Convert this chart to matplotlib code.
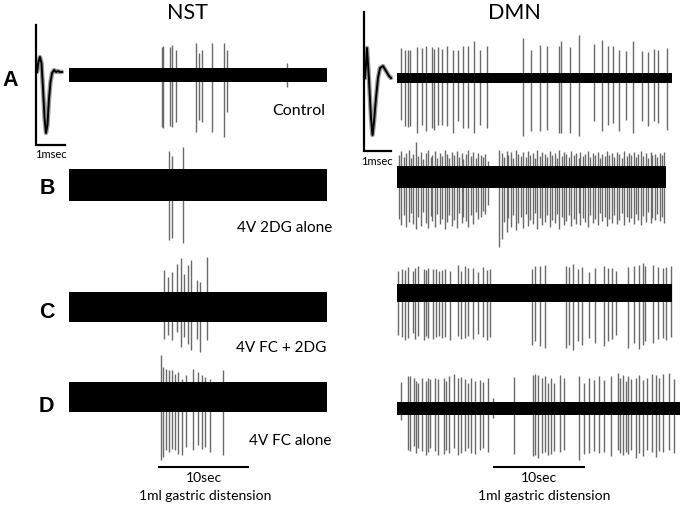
import matplotlib
matplotlib.use("Agg")
import matplotlib.pyplot as plt

# ---------------- data (times in s, amplitudes in arbitrary units) ----------------
# NST recordings
nst_a_t = [10.42, 10.60, 11.35, 11.57, 11.99, 14.27, 14.64, 14.91, 16.10, 17.45, 17.79, 24.50]
nst_a_up = [28, 29, 28, 30, 25, 32, 22, 25, 32, 32, 25, 12]
nst_a_dn = [52, 53, 51, 52, 47, 57, 45, 47, 57, 62, 37, 12]

nst_b_t = [11.27, 11.54, 12.77]
nst_b_up = [34, 29, 38]
nst_b_dn = [55, 53, 58]

nst_c_t = [10.71, 11.16, 11.61, 12.10, 12.58, 12.92, 13.34, 13.74, 14.35, 14.72, 15.51]
nst_c_up = [37, 30, 35, 43, 49, 33, 42, 47, 27, 25, 50]
nst_c_dn = [32, 28, 33, 25, 40, 30, 37, 43, 32, 45, 33]

nst_d_t = [10.34, 10.60, 10.90, 11.24, 11.61, 11.91, 12.21, 12.66, 13.10, 13.97, 14.46, 14.91, 15.28, 15.84, 17.27]
nst_d_up = [42, 30, 28, 27, 27, 23, 25, 18, 22, 28, 25, 22, 20, 18, 27]
nst_d_dn = [63, 60, 53, 55, 52, 53, 57, 58, 50, 53, 48, 52, 50, 55, 58]

# DMN recordings
dmn_a_t = [0.44, 0.89, 1.19, 1.48, 2.22, 2.74, 3.22, 3.85, 4.15, 4.52, 4.96, 5.56, 6.19, 6.81,
           7.37, 7.93, 8.52, 9.26, 9.96, 14.00, 14.89, 15.89, 16.67, 18.04, 18.22, 19.19, 20.22,
           21.85, 22.74, 23.41, 23.96, 24.63, 25.44, 26.26, 27.22, 27.85, 28.59, 29.04, 29.96]
dmn_a_up = [30, 28, 28, 28, 31, 30, 32, 31, 29, 31, 29, 32, 28, 28, 32, 32, 37, 28, 32, 40,
            28, 33, 32, 32, 37, 31, 43, 34, 38, 32, 32, 28, 27, 37, 27, 26, 29, 28, 30]
dmn_a_dn = [42, 48, 49, 48, 55, 47, 53, 50, 52, 47, 47, 48, 55, 43, 50, 50, 55, 47, 50, 58,
            53, 53, 52, 55, 55, 55, 58, 43, 53, 47, 45, 53, 42, 55, 43, 48, 43, 45, 52]

dmn_b_t = [0.22, 0.47, 0.81, 0.98, 1.31, 1.52, 1.83, 2.07, 2.38, 2.63, 2.88, 3.17, 3.42, 3.73,
           3.92, 4.23, 4.48, 4.77, 5.02, 5.28, 5.57, 5.79, 6.12, 6.33, 6.63, 6.88, 7.18, 7.38,
           7.72, 7.93, 8.24, 8.47, 8.78, 9.02, 9.28, 9.57, 9.78, 10.12,
           11.38, 11.63, 11.87, 12.18, 12.38, 12.72, 12.93, 13.22, 13.48, 13.77, 13.98, 14.32,
           14.53, 14.82, 15.08, 15.37, 15.58, 15.92, 16.13, 16.42, 16.68, 16.97, 17.18, 17.52,
           17.73, 18.02, 18.28, 18.57, 18.78, 19.12, 19.33, 19.62, 19.88, 20.17, 20.38, 20.72,
           20.93, 21.22, 21.48, 21.77, 21.98, 22.32, 22.53, 22.82, 23.08, 23.37, 23.58, 23.92,
           24.13, 24.42, 24.68, 24.97, 25.18, 25.52, 25.73, 26.02, 26.28, 26.57, 26.78, 27.12,
           27.33, 27.62, 27.88, 28.17, 28.38, 28.72, 28.93, 29.22, 29.48, 29.72]
dmn_b_up = [22, 26, 20, 24, 27, 19, 23, 35, 21, 25, 18, 24, 27, 20, 22, 26, 19, 24, 21, 27,
            23, 19, 25, 22, 26, 20, 24, 18, 23, 27, 21, 25, 19, 24, 22, 20, 23, 16,
            27, 24, 20, 26, 22, 25, 19, 27, 23, 21, 25, 20, 26, 22, 24, 19, 27, 21, 25, 23,
            20, 26, 22, 24, 19, 27, 21, 25, 23, 20, 26, 22, 24, 19, 25, 21, 23, 26, 20, 24,
            22, 25, 19, 23, 21, 26, 22, 24, 20, 25, 23, 19, 26, 21, 24, 22, 25, 20, 23, 26,
            21, 24, 19, 25, 22, 23, 20, 24, 22, 25]
dmn_b_dn = [42, 48, 38, 50, 45, 36, 47, 52, 40, 49, 35, 46, 51, 39, 44, 50, 37, 47, 42, 52,
            45, 38, 49, 43, 51, 36, 46, 40, 44, 50, 38, 47, 35, 42, 40, 34, 37, 28,
            70, 62, 45, 55, 41, 50, 38, 53, 46, 40, 51, 37, 49, 43, 47, 36, 52, 41, 48, 45,
            38, 50, 43, 46, 37, 52, 40, 48, 44, 38, 49, 42, 47, 36, 48, 41, 45, 50, 38, 46,
            42, 48, 36, 44, 40, 49, 42, 46, 38, 47, 43, 36, 48, 40, 45, 41, 47, 37, 43, 48,
            39, 45, 35, 46, 41, 43, 37, 44, 40, 46]

dmn_c_t = [0.15, 0.52, 0.89, 1.26, 1.74, 2.00, 2.37, 2.96, 3.22, 3.48, 4.04, 4.33, 4.63, 4.96,
           5.33, 5.89, 6.74, 7.11, 7.56, 7.93, 8.41, 8.96, 9.52, 9.96, 10.33,
           14.96, 15.33, 15.89, 16.44, 18.78, 19.15, 19.59, 20.07, 20.56, 21.37, 22.04, 23.04,
           23.41, 23.85, 24.33, 25.63, 26.30, 26.85, 27.30, 27.59, 28.41, 28.96, 29.52, 29.89, 30.44]
dmn_c_up = [22, 24, 23, 26, 22, 25, 27, 24, 23, 25, 24, 24, 22, 23, 24, 22, 28, 22, 27, 25,
            25, 21, 26, 23, 24,
            24, 27, 27, 28, 27, 26, 29, 24, 26, 21, 25, 27, 25, 25, 22, 26, 27, 28, 30, 27,
            28, 26, 25, 26, 27]
dmn_c_dn = [42, 44, 47, 45, 40, 46, 43, 47, 43, 45, 46, 44, 43, 45, 44, 47, 43, 46, 45, 43,
            46, 41, 44, 47, 44,
            52, 48, 53, 55, 55, 52, 57, 48, 52, 45, 50, 53, 48, 46, 42, 55, 50, 56, 52, 48,
            50, 46, 45, 47, 44]

dmn_d_t = [0.44, 1.19, 1.48, 1.85, 2.11, 2.37, 2.78, 3.22, 3.48, 3.70, 4.26, 4.52, 5.19, 5.44,
           5.81, 6.37, 6.74, 7.11, 7.56, 7.85, 8.22, 8.67, 9.26, 9.52, 10.07, 10.63, 12.96,
           15.07, 15.37, 15.70, 16.11, 16.44, 16.81, 17.11, 17.48, 18.15, 18.52, 20.26, 20.81,
           21.37, 21.93, 22.41, 23.04, 23.78, 24.52, 24.81, 25.07, 25.44, 25.70, 26.00, 26.56,
           26.93, 27.30, 27.78, 28.33, 28.78, 29.15, 29.52, 30.26, 30.81]
dmn_d_up = [26, 32, 32, 30, 27, 25, 30, 27, 30, 29, 30, 29, 30, 27, 32, 34, 30, 31, 29, 25,
            30, 27, 28, 26, 30, 10, 31, 33, 34, 33, 30, 32, 25, 30, 25, 33, 30, 32, 25, 30,
            28, 32, 28, 32, 35, 30, 33, 27, 32, 29, 30, 33, 28, 30, 34, 33, 30, 34, 35, 29]
dmn_d_dn = [12, 42, 43, 38, 45, 40, 43, 47, 44, 40, 43, 47, 46, 42, 45, 40, 47, 45, 43, 40,
            45, 46, 42, 40, 44, 10, 46, 48, 47, 50, 45, 44, 47, 46, 43, 44, 42, 52, 46, 45,
            43, 45, 44, 48, 42, 45, 47, 44, 46, 42, 50, 45, 48, 42, 44, 49, 43, 44, 42, 45]

# averaged action potential waveforms (time ms, amplitude)
nst_wave_ms = [0.00, 0.05, 0.10, 0.155, 0.21, 0.26, 0.31, 0.36, 0.41, 0.465, 0.52, 0.59, 0.66, 0.72, 0.79, 0.86]
nst_wave_amp = [0, 10, 15, 9, -18, -46, -61, -53, -28, -10, -1, 2, 0, 1, 0, 0]
dmn_wave_ms = [0.00, 0.04, 0.074, 0.148, 0.222, 0.278, 0.333, 0.407, 0.481, 0.556, 0.667, 0.778, 0.889, 0.963]
dmn_wave_amp = [0, 15, 30, -2, -40, -57, -44, -20, 0, 10, 12, 7, 2, 0]

# ---------------- layout ----------------
W, H = 682, 505
fig = plt.figure(figsize=(W / 100, H / 100), dpi=100)
SANS = ['Lato', 'DejaVu Sans']
SPIKE = '#6a6a6a'


def px_axes(left, right, yc, lo, hi, x0, x1):
    ax = fig.add_axes([left / W, 1 - (yc + lo) / H, (right - left) / W, (lo + hi) / H])
    ax.set_xlim(x0, x1)
    ax.set_ylim(-lo, hi)
    ax.axis('off')
    return ax


def trace(left, right, yc, pxs, band, t, up, dn):
    dur = (right - left) / pxs
    ax = px_axes(left, right, yc, 90, 90, 0, dur)
    ax.vlines(t, [-d for d in dn], up, color=SPIKE, lw=1.0, clip_on=False, zorder=1)
    ax.fill_between([0, dur], -band, band, color='black', lw=0, zorder=2)
    return ax, dur


NST_L, NST_R, NST_PXS = 69, 327, 8.9
DMN_L, DMN_PXS = 397, 9.0

trace(NST_L, NST_R, 75, NST_PXS, 7, nst_a_t, nst_a_up, nst_a_dn)
trace(NST_L, NST_R, 185, NST_PXS, 16, nst_b_t, nst_b_up, nst_b_dn)
trace(NST_L, NST_R, 307, NST_PXS, 15, nst_c_t, nst_c_up, nst_c_dn)
axnd, _ = trace(NST_L, NST_R, 397, NST_PXS, 15, nst_d_t, nst_d_up, nst_d_dn)

trace(DMN_L, 672, 78, DMN_PXS, 5, dmn_a_t, dmn_a_up, dmn_a_dn)
trace(DMN_L, 666, 177, DMN_PXS, 11, dmn_b_t, dmn_b_up, dmn_b_dn)
trace(DMN_L, 672, 293, DMN_PXS, 9, dmn_c_t, dmn_c_up, dmn_c_dn)
axdd, _ = trace(DMN_L, 680, 408, DMN_PXS, 6.5, dmn_d_t, dmn_d_up, dmn_d_dn)

# 10 s scale bars
axnd.plot([10.11, 20.11], [-70, -70], color='black', lw=1.5, clip_on=False)
axdd.plot([10.78, 20.78], [-59, -59], color='black', lw=1.5, clip_on=False)

# waveform insets
def inset(x0px, pxms, base_y, wave_t, wave_a, bar_top, bar_bot):
    left = x0px - 0.1 * pxms
    right = x0px + 1.2 * pxms
    ax = px_axes(left, right, base_y, 90, 70, -0.1, 1.2)
    ax.plot(wave_t, wave_a, color='#9a9a9a', lw=3.2, solid_capstyle='round', clip_on=False)
    ax.plot(wave_t, wave_a, color='black', lw=1.4, clip_on=False)
    ax.plot([-0.035, -0.035, 0.965], [bar_top, bar_bot, bar_bot], color='black', lw=1.6,
            clip_on=False, solid_joinstyle='miter')
    return ax

inset(37, 29, 72, nst_wave_ms, nst_wave_amp, 47, -73)
inset(365, 27, 78, dmn_wave_ms, dmn_wave_amp, 66, -73)

# ---------------- text (figure pixel coords) ----------------
def txt(x, y, s, **kw):
    fig.text(x / W, 1 - y / H, s, **kw)

txt(187, 13, 'NST', ha='center', va='center', fontsize=15.5, family=SANS)
txt(514, 13, 'DMN', ha='center', va='center', fontsize=15.5, family=SANS)

for lab, x, y in [('A', 10, 80), ('B', 47, 188), ('C', 47, 313), ('D', 46, 406)]:
    txt(x, y, lab, ha='center', va='center', fontsize=15.5, fontweight='bold',
        family=['Liberation Sans', 'DejaVu Sans'])

txt(325, 111, 'Control', ha='right', va='center', fontsize=11.5, family=SANS)
txt(332, 228, '4V 2DG alone', ha='right', va='center', fontsize=11, family=SANS)
txt(326, 348, '4V FC + 2DG', ha='right', va='center', fontsize=11, family=SANS)
txt(331, 441, '4V FC alone', ha='right', va='center', fontsize=11, family=SANS)

txt(51, 154, '1msec', ha='center', va='center', fontsize=8, family=SANS)
txt(377, 161, '1msec', ha='center', va='center', fontsize=8, family=SANS)

txt(204, 478, '10sec', ha='center', va='center', fontsize=10, family=SANS)
txt(205, 496, '1ml gastric distension', ha='center', va='center', fontsize=10, family=SANS)
txt(539, 478, '10sec', ha='center', va='center', fontsize=10, family=SANS)
txt(544, 496, '1ml gastric distension', ha='center', va='center', fontsize=10, family=SANS)

fig.savefig('out.png', dpi=100)
